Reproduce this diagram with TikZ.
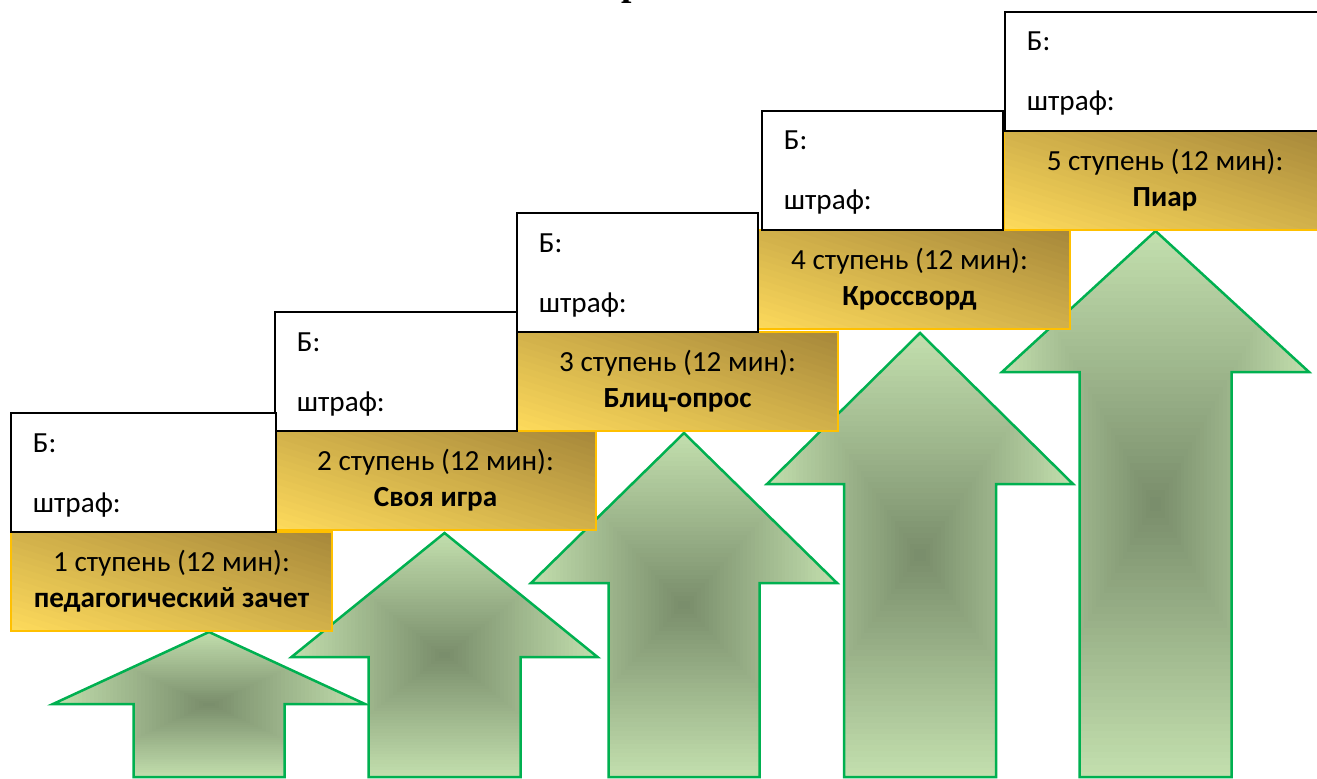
\documentclass[tikz,border=0pt]{standalone}
\usepackage{fontspec}
\setmainfont{Carlito}
\newfontfamily\ttlfont{Liberation Serif}
\definecolor{goldD}{HTML}{A6873A}
\definecolor{goldL}{HTML}{FEDB5C}
\definecolor{goldB}{HTML}{FFC000}
\definecolor{grL}{HTML}{C3DFAE}
\definecolor{grD}{HTML}{788C6A}
\definecolor{grB}{HTML}{00B050}
\newcommand\pxl{0.48pt}
\newcommand\greenarrow[5]{% cx, tip y, wing y, wing half width, shaft half width
  \begin{scope}
    \clip (#1,#2) -- (#1+#4,#3) -- (#1+#5,#3) -- (#1+#5,777) -- (#1-#5,777) -- (#1-#5,#3) -- (#1-#4,#3) -- cycle;
    \pgfmathsetmacro\arrCY{(#2+777)/2}
    \pgfmathsetmacro\arrHH{(777-#2)/2+2}
    \foreach \i in {40,39,...,1}{
      \pgfmathsetmacro\arrFR{\i/40}
      \pgfmathsetmacro\arrPC{100*\arrFR}
      \fill[grL!\arrPC!grD] (#1-\arrFR*#4-2,\arrCY-\arrFR*\arrHH) rectangle (#1+\arrFR*#4+2,\arrCY+\arrFR*\arrHH);
    }
  \end{scope}
  \draw[arrowline] (#1,#2) -- (#1+#4,#3) -- (#1+#5,#3) -- (#1+#5,777) -- (#1-#5,777) -- (#1-#5,#3) -- (#1-#4,#3) -- cycle;
}
\newcommand\goldfill[4]{% x0, y0, W, H : diagonal gradient, light bottom-left, dark top-right
  \begin{scope}
    \clip (#1,#2) rectangle (#1+#3,#2+#4);
    \foreach \k in {0,...,29}{
      \pgfmathsetmacro\gA{2*\k/30-1}
      \pgfmathsetmacro\gB{2*(\k+1)/30-1+0.01}
      \pgfmathsetmacro\gPC{100-100*(\k+0.5)/30}
      \fill[goldL!\gPC!goldD] (#1+\gA*#3-0.1*#3,#2-0.1*#4) -- (#1+\gB*#3-0.1*#3,#2-0.1*#4) -- (#1+\gB*#3+1.1*#3,#2+1.1*#4) -- (#1+\gA*#3+1.1*#3,#2+1.1*#4) -- cycle;
    }
  \end{scope}
}
\newcommand\stepblock[7]{% id, white x, white y, white w, gold x, gold w, title
  \goldfill{#5}{#3+119}{#6}{99}
  \node[goldbox, minimum width=#6*\pxl, minimum height=99*\pxl] (g#1) at (#5,#3+119) {};
  \node[whitebox, minimum width=#4*\pxl, minimum height=119*\pxl] (w#1) at (#2,#3) {};
  \node[lbl] (b#1) at (#2+21.5,#3+39) {Б:};
  \node[lbl] (s#1) at (#2+21.5,#3+99) {штраф:};
  \node[stxt] (t#1) at (#5+#6/2,#3+119+39.5) {#1 ступень (12 мин):};
  \node[stxt,font=\fontsize{14}{17}\selectfont\bfseries] (n#1) at (#5+#6/2,#3+119+75.5) {#7};
}
\begin{document}
\begin{tikzpicture}[x=0.48pt,y=-0.48pt,
  whitebox/.style={draw=black,line width=0.75pt,fill=white,anchor=north west,inner sep=0pt,outer sep=0pt},
  goldbox/.style={draw=goldB,line width=1.2pt,anchor=north west,inner sep=0pt,outer sep=0pt},
  lbl/.style={anchor=base west,font=\fontsize{14}{17}\selectfont,inner sep=0pt},
  stxt/.style={anchor=base,font=\fontsize{14}{17}\selectfont,inner sep=0pt},
  arrowline/.style={draw=grB,line width=1.2pt,line join=miter}
]
\useasboundingbox (0,0) rectangle (1317,778);
\clip (0,0) rectangle (1317,778);
\fill[white] (0,0) rectangle (1317,778);
\node[font=\ttlfont\bfseries\fontsize{18}{20}\selectfont, anchor=base west, inner sep=0pt] (ttl) at (621.3,-4.7) {р};

\greenarrow{209}{632}{704}{156}{75.5}
\greenarrow{444.5}{533}{657}{153}{76}
\greenarrow{684}{433}{583}{153}{75.5}
\greenarrow{920}{333}{484}{153}{76}
\greenarrow{1155.5}{231}{372}{153.5}{76}

\stepblock{5}{1005}{12}{330}{1004}{322}{Пиар}
\stepblock{4}{762}{111}{241}{749}{321}{Кроссворд}
\stepblock{3}{517}{213}{241}{517}{321}{Блиц-опрос}
\stepblock{2}{275}{312}{242}{275}{321}{Своя игра}
\stepblock{1}{11}{413}{265}{11}{321}{педагогический зачет}
\end{tikzpicture}
\end{document}
